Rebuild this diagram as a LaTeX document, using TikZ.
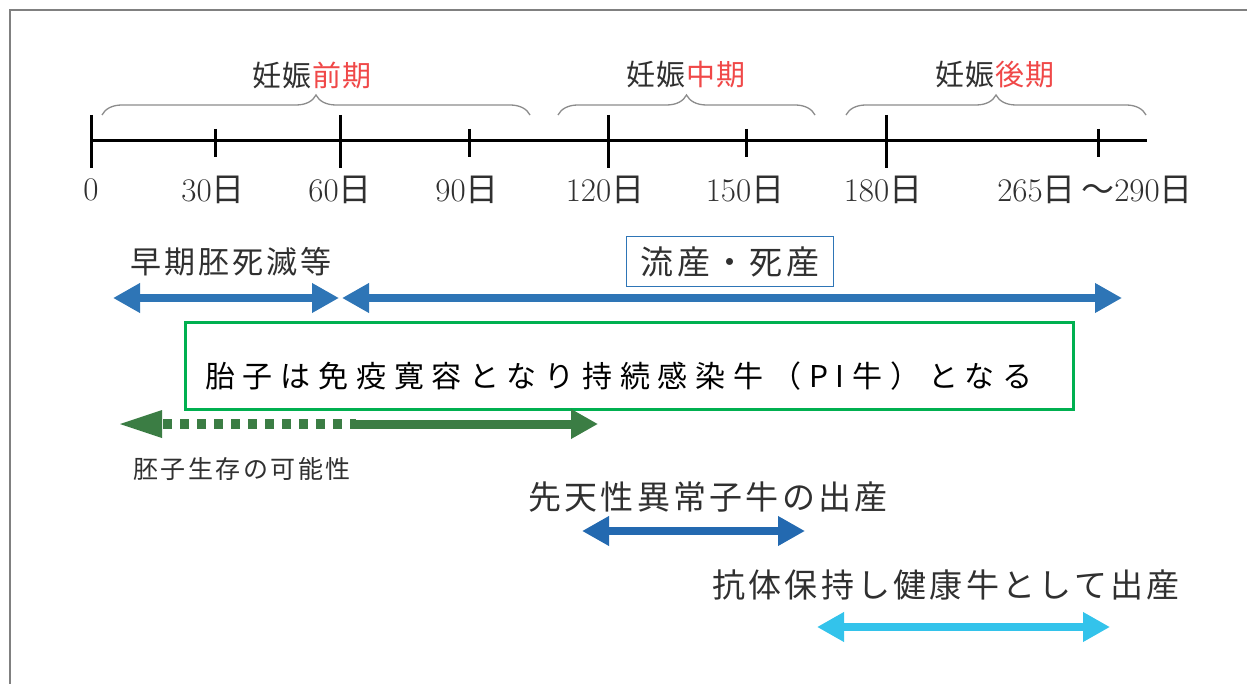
\documentclass[tikz,border=0pt]{standalone}
\usepackage{fontspec}
\usetikzlibrary{arrows.meta,decorations.pathreplacing}
\newfontfamily\jp{Noto Sans CJK JP}
\newfontfamily\jpl[LetterSpace=10]{Noto Sans CJK JP}
\newfontfamily\jpph[LetterSpace=5]{Noto Sans CJK JP}
\newfontfamily\jpsp[LetterSpace=26]{Noto Sans CJK JP}
\definecolor{framegray}{HTML}{808080}
\definecolor{braceg}{HTML}{8C8C8C}
\definecolor{redt}{HTML}{F04848}
\definecolor{txt}{HTML}{303030}
\definecolor{bluea}{HTML}{2E75B6}
\definecolor{blueb}{HTML}{2369B0}
\definecolor{bluec}{HTML}{33C3EB}
\definecolor{greenbox}{HTML}{00B050}
\definecolor{greena}{HTML}{3B7D44}
\tikzset{
  tl/.style={line width=3pt, black},
  daylab/.style={font=\fontsize{33}{38}\selectfont, text=txt, inner sep=0pt},
  phase/.style={font=\jpph\fontsize{29}{34}\selectfont, text=txt, inner sep=0pt},
  brc/.style={draw=braceg, line width=1.3pt, decorate, decoration={brace, amplitude=20pt}},
  jlab/.style={font=\jpl\fontsize{33}{38}\selectfont, text=txt, inner sep=0pt},
  dblarrow/.style={line width=8pt, {Triangle[length=27pt,width=28pt]}-{Triangle[length=27pt,width=28pt]}},
}
\begin{document}
\begin{tikzpicture}[x=1pt,y=-1pt]
\useasboundingbox (0,0) rectangle (1247,684);
\fill[white] (0,0) rectangle (1247,684);
\draw[framegray, line width=2pt] (10,684) -- (10,10) -- (1247,10);

% timeline
\coordinate (t0) at (91,141);
\coordinate (tend) at (1147,141);
\draw[tl] (t0) -- (tend);
\foreach \x in {91,340,608,886}{
  \draw[tl] (\x,115) -- (\x,168);
}
\foreach \x in {215,469,746,1098}{
  \draw[tl] (\x,129) -- (\x,157);
}
\node[daylab] (d0) at (91,190) {0};
\node[daylab] (d30) at (213,190) {30{\jp 日}};
\node[daylab] (d60) at (340,190) {60{\jp 日}};
\node[daylab] (d90) at (467,190) {90{\jp 日}};
\node[daylab] (d120) at (605,190) {120{\jp 日}};
\node[daylab] (d150) at (745,190) {150{\jp 日}};
\node[daylab] (d180) at (883,190) {180{\jp 日}};
\node[daylab] (d265) at (1095,190) {265{\jp 日}\,{\jp ～}290{\jp 日}};

% braces
\draw[brc] (102,115) -- (530,115);
\draw[brc] (558,115) -- (815,115);
\draw[brc] (846,115) -- (1146,115);
\node[phase] (p1) at (312,75) {妊娠\textcolor{redt}{前期}};
\node[phase] (p2) at (686,75) {妊娠\textcolor{redt}{中期}};
\node[phase] (p3) at (995,75) {妊娠\textcolor{redt}{後期}};

% early embryonic death
\node[jlab, font=\jpl\fontsize{31}{36}\selectfont, anchor=west] (early) at (130,262) {早期胚死滅等};
\node[jlab, draw=bluea, line width=1pt, minimum width=207pt, minimum height=50pt] (abort) at (730,262) {流産・死産};
\coordinate (e1) at (113,298);
\coordinate (e2) at (339,298);
\coordinate (e3) at (342,298);
\coordinate (e4) at (1122,298);
\draw[dblarrow, bluea] (e1) -- (e2);
\draw[dblarrow, bluea] (e3) -- (e4);

% PI box
\node[draw=greenbox, line width=3pt, minimum width=888pt, minimum height=87pt, anchor=north west, inner sep=0pt] (pibox) at (184,321) {};
\node[font=\jpsp\fontsize{30}{35}\selectfont, text=black, anchor=west, inner sep=0pt] (pitext) at (205,376) {胎子は免疫寛容となり持続感染牛（PI牛）となる};

% green arrow
\coordinate (g1) at (120,424);
\coordinate (gm1) at (163,424);
\coordinate (gm2) at (356,424);
\coordinate (g2) at (598,424);
\draw[greena, line width=10pt, dash pattern=on 9pt off 8pt] (gm1) -- (gm2);
\draw[greena, line width=9pt, -{Triangle[length=27pt,width=28pt]}] (gm2) -- (g2);
\fill[greena] (g1) -- ([xshift=42pt,yshift=-14pt]g1) -- ([xshift=42pt,yshift=14pt]g1) -- cycle;
\node[font=\jpl\fontsize{25}{30}\selectfont, text=txt, anchor=west, inner sep=0pt] (surv) at (133,469) {胚子生存の可能性};

% congenital
\node[jlab, anchor=west] (cong) at (528,497) {先天性異常子牛の出産};
\coordinate (c1) at (582,531);
\coordinate (c2) at (805,531);
\draw[dblarrow, blueb] (c1) -- (c2);

% healthy
\node[jlab, anchor=west] (healthy) at (712,585) {抗体保持し健康牛として出産};
\coordinate (h1) at (817,627);
\coordinate (h2) at (1110,627);
\draw[dblarrow, bluec] (h1) -- (h2);
\end{tikzpicture}
\end{document}
